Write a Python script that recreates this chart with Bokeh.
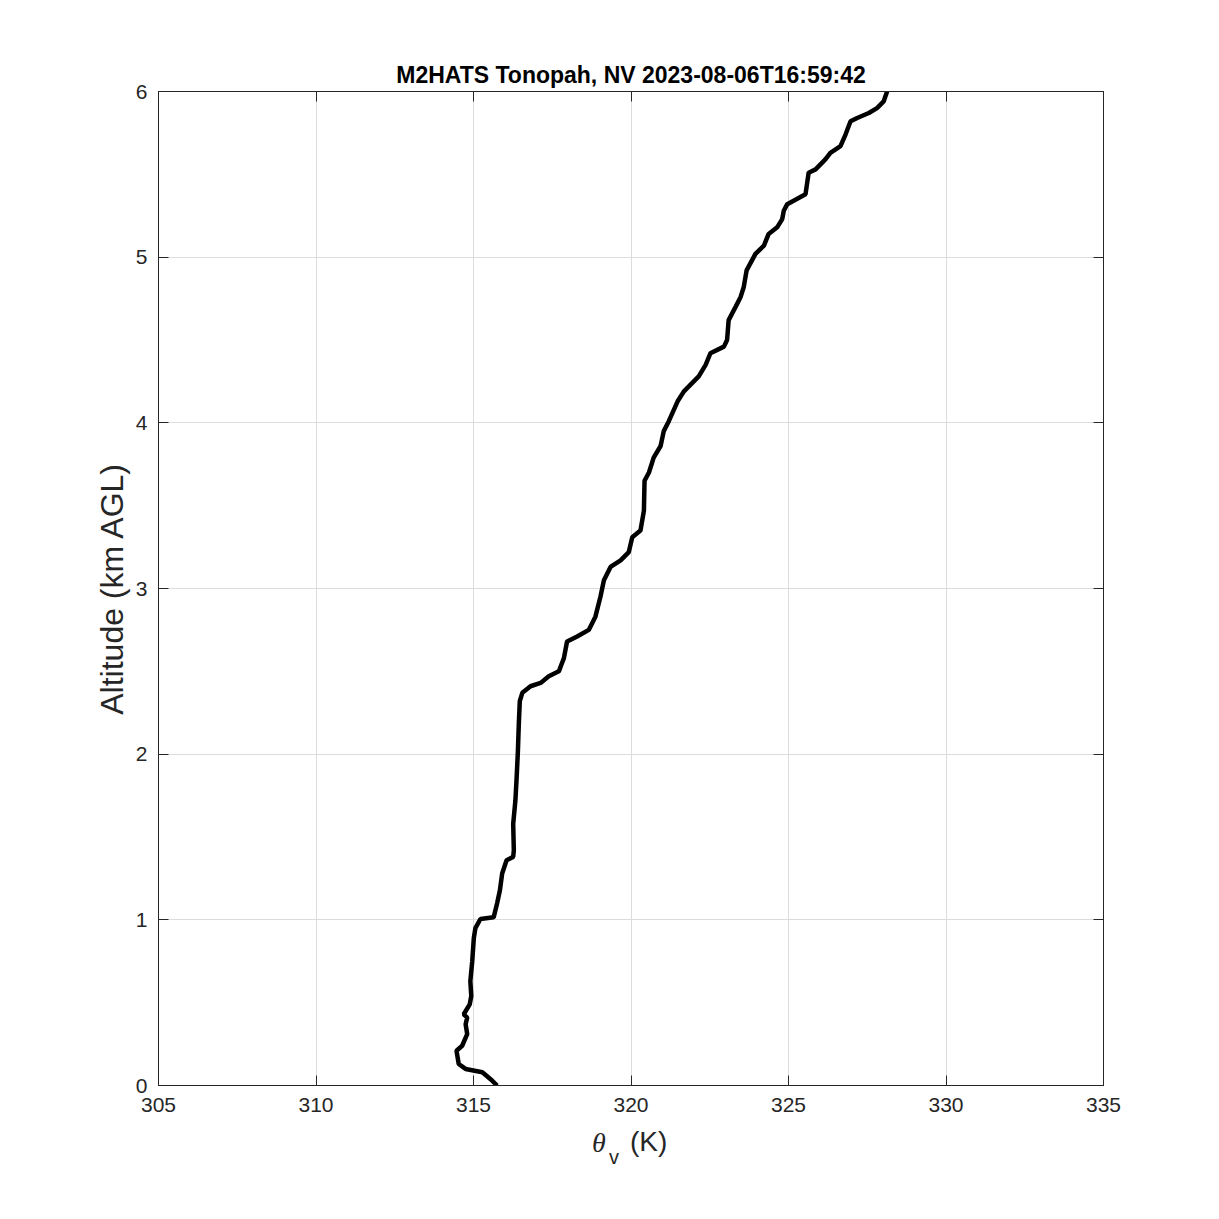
from bokeh.plotting import figure
from bokeh.models import Range1d, LinearAxis, FixedTicker, CustomJSTickFormatter, Div
from bokeh.layouts import column
from bokeh.embed import file_html
from bokeh.resources import INLINE

# Virtual potential temperature (K) vs altitude (km AGL)
altitude_km = [0.00, 0.03, 0.08, 0.10, 0.13, 0.21, 0.24, 0.31, 0.37, 0.41, 0.43, 0.49,
               0.54, 0.63, 0.75, 0.89, 0.95, 1.005, 1.015, 1.10, 1.18, 1.28, 1.36, 1.38,
               1.42, 1.58, 1.72, 1.86, 2.02, 2.19, 2.32, 2.37, 2.41, 2.43, 2.47, 2.50,
               2.55, 2.58, 2.68, 2.71, 2.75, 2.83, 2.95, 3.05, 3.13, 3.17, 3.22, 3.31,
               3.35, 3.47, 3.65, 3.70, 3.79, 3.86, 3.95, 4.01, 4.13, 4.19, 4.28, 4.35,
               4.42, 4.46, 4.50, 4.62, 4.70, 4.76, 4.82, 4.92, 5.02, 5.07, 5.14, 5.18,
               5.23, 5.28, 5.32, 5.38, 5.51, 5.53, 5.59, 5.63, 5.67, 5.74, 5.82, 5.84,
               5.87, 5.90, 5.94, 6.00]
theta_v_K = [315.75, 315.59, 315.28, 314.75, 314.53, 314.46, 314.64, 314.80, 314.75, 314.80,
             314.69, 314.88, 314.93, 314.90, 314.96, 315.01, 315.06, 315.22, 315.64, 315.75,
             315.84, 315.91, 316.05, 316.26, 316.28, 316.26, 316.33, 316.37, 316.41, 316.44,
             316.47, 316.55, 316.81, 317.13, 317.39, 317.71, 317.81, 317.87, 317.97, 318.29,
             318.66, 318.87, 319.03, 319.14, 319.35, 319.67, 319.93, 320.04, 320.30, 320.41,
             320.43, 320.57, 320.72, 320.94, 321.04, 321.20, 321.48, 321.68, 322.15, 322.37,
             322.52, 322.95, 323.05, 323.10, 323.32, 323.48, 323.58, 323.67, 323.95, 324.22,
             324.37, 324.64, 324.80, 324.85, 324.96, 325.54, 325.64, 325.86, 326.17, 326.33,
             326.65, 326.81, 326.97, 327.18, 327.55, 327.81, 328.02, 328.13]

x_ticks = [305, 310, 315, 320, 325, 330, 335]
y_ticks = [0, 1, 2, 3, 4, 5, 6]
title_text = "M2HATS Tonopah, NV 2023-08-06T16:59:42"
y_label = "Altitude (km AGL)"

FONT = "Liberation Sans"
INK = "#262626"
GRID = "#dcdcdc"

p = figure(width=1203, height=1122, output_backend="svg", toolbar_location=None,
           x_range=Range1d(305, 335), y_range=Range1d(0, 6),
           min_border_left=158, min_border_right=100, min_border_top=91, min_border_bottom=37,
           x_axis_label=None, y_axis_label=y_label)

p.title.text = title_text
p.title.align = "center"
p.title.text_font = FONT
p.title.text_font_size = "23px"
p.title.text_font_style = "bold"
p.title.text_color = "black"
p.title.standoff = 8
p.title.offset = 0

p.outline_line_color = INK
p.outline_line_width = 1
p.background_fill_color = "white"
p.border_fill_color = "white"

for ax in (p.xaxis[0], p.yaxis[0]):
    ax.major_tick_in = 10
    ax.major_tick_out = 0
    ax.minor_tick_in = 0
    ax.minor_tick_out = 0
    ax.axis_line_color = INK
    ax.major_tick_line_color = INK
    ax.major_label_text_font = FONT
    ax.major_label_text_font_size = "21px"
    ax.major_label_text_color = INK

p.xaxis[0].ticker = FixedTicker(ticks=x_ticks)
p.yaxis[0].ticker = FixedTicker(ticks=y_ticks)
p.xaxis[0].major_label_standoff = 12
p.yaxis[0].major_label_standoff = 11
p.yaxis[0].axis_label_text_font = FONT
p.yaxis[0].axis_label_text_font_size = "32px"
p.yaxis[0].axis_label_text_font_style = "normal"
p.yaxis[0].axis_label_text_color = INK
p.yaxis[0].axis_label_standoff = 3

blank = CustomJSTickFormatter(code="return ''")
top_ax = LinearAxis(ticker=FixedTicker(ticks=x_ticks), formatter=blank,
                    major_tick_in=10, major_tick_out=0, minor_tick_in=0, minor_tick_out=0,
                    axis_line_color=INK, major_tick_line_color=INK,
                    major_label_text_font_size="0px", major_label_standoff=0)
right_ax = LinearAxis(ticker=FixedTicker(ticks=y_ticks), formatter=blank,
                      major_tick_in=10, major_tick_out=0, minor_tick_in=0, minor_tick_out=0,
                      axis_line_color=INK, major_tick_line_color=INK,
                      major_label_text_font_size="0px", major_label_standoff=0)
p.add_layout(top_ax, "above")
p.add_layout(right_ax, "right")

p.xgrid.ticker = FixedTicker(ticks=x_ticks)
p.ygrid.ticker = FixedTicker(ticks=y_ticks)
p.grid.grid_line_color = GRID
p.grid.grid_line_width = 1

p.line(theta_v_K, altitude_km, line_color="black", line_width=4.5)

# x-axis label: italic theta with subscript v, then (K)
xlabel_html = (
    '<div style="position:relative;width:1203px;height:81px;color:%s;">'
    '<span style="position:absolute;left:592px;top:7px;line-height:1;'
    'font-family:\'Liberation Serif\';font-style:italic;font-size:28px;">θ</span>'
    '<span style="position:absolute;left:609px;top:25px;line-height:1;'
    'font-family:\'Liberation Sans\';font-size:20px;">v</span>'
    '<span style="position:absolute;left:630px;top:6px;line-height:1;'
    'font-family:\'Liberation Sans\';font-size:28px;">(K)</span>'
    '</div>' % INK
)
xlabel = Div(text=xlabel_html, width=1203, height=81, margin=0)

layout = column(p, xlabel, spacing=0)

open("out.html", "w").write(file_html(layout, INLINE))
